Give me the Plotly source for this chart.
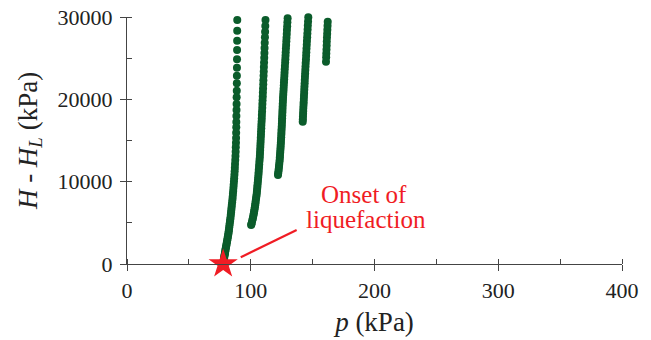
import plotly.graph_objects as go

# ---- data ----
c1_H = [29640, 28340, 27120, 25990, 24860, 23840, 22870, 21950, 21050, 20250, 19430, 18700,
        17980, 17250, 16600, 15950, 15300, 14730, 14170, 13640, 13130, 12640, 12160, 11700,
        11260, 10830, 10420, 10020, 9630, 9250, 8880, 8520, 8170, 7830, 7500, 7180, 6870, 6570,
        6280, 6000, 5720, 5450, 5190, 4930, 4680, 4440, 4200, 3970, 3740, 3520, 3300, 3090,
        2880, 2680, 2480, 2280, 2090, 1900, 1720, 1540, 1360, 1190, 1020, 850, 690, 530, 370,
        220, 70, -80, -230, -400, -600, -850]
c1_p = [89.1, 89.05, 89.0, 88.95, 88.9, 88.85, 88.8, 88.75, 88.7, 88.6, 88.55, 88.5,
        88.4, 88.35, 88.3, 88.2, 88.15, 88.05, 87.9, 87.8, 87.65, 87.5, 87.3, 87.15,
        87.0, 86.8, 86.6, 86.4, 86.2, 86.0, 85.8, 85.6, 85.4, 85.2, 84.95, 84.7, 84.5, 84.3,
        84.1, 83.9, 83.7, 83.45, 83.25, 83.0, 82.8, 82.6, 82.4, 82.2, 82.0, 81.75, 81.5, 81.25,
        81.0, 80.75, 80.5, 80.3, 80.05, 79.8, 79.6, 79.4, 79.2, 79.0, 78.8, 78.6, 78.4, 78.25, 78.05,
        77.9, 77.75, 77.7, 77.65, 77.6, 77.5, 77.45]

c2_H = [29640, 28900, 28200, 27530, 26880, 26250, 25640, 25050, 24480, 23920, 23380, 22850,
        22330, 21820, 21320, 20830, 20350, 19880, 19420, 18970, 18530, 18100, 17680, 17270,
        16870, 16480, 16090, 15700, 15320, 14940, 14570, 14200, 13840, 13480, 13130, 12780,
        12440, 12100, 11770, 11440, 11120, 10810, 10500, 10190, 9890, 9590, 9300, 9010, 8730,
        8450, 8180, 7910, 7650, 7390, 7140, 6890, 6650, 6410, 6170, 5940, 5710, 5490, 5270,
        5050, 4840, 4740]
c2_p = [111.9, 111.75, 111.6, 111.45, 111.3, 111.15, 111.05, 110.9, 110.75, 110.6, 110.5, 110.35,
        110.2, 110.1, 109.95, 109.8, 109.7, 109.55, 109.4, 109.3, 109.15, 109.0, 108.9, 108.75,
        108.6, 108.5, 108.35, 108.25, 108.1, 108.0, 107.85, 107.75, 107.6, 107.5, 107.35, 107.2,
        107.0, 106.85, 106.7, 106.5, 106.35, 106.2, 106.0, 105.8, 105.65, 105.45, 105.3, 105.1, 104.95,
        104.75, 104.5, 104.25, 104.0, 103.8, 103.55, 103.3, 103.05, 102.75, 102.5, 102.2, 101.9, 101.6, 101.25,
        100.9, 100.55, 100.3]

c3_H = [29840, 29360, 28880, 28410, 27950, 27490, 27040, 26600, 26160, 25730, 25300, 24880,
        24460, 24050, 23640, 23240, 22840, 22450, 22060, 21680, 21300, 20920, 20550, 20180,
        19820, 19460, 19100, 18750, 18400, 18050, 17710, 17370, 17030, 16700, 16370, 16040,
        15720, 15400, 15080, 14770, 14460, 14150, 13850, 13550, 13250, 12960, 12670, 12380,
        12100, 11820, 11540, 11270, 11000, 10810]
c3_p = [129.8, 129.6, 129.45, 129.25, 129.1, 128.9, 128.75, 128.6, 128.4, 128.25, 128.1, 127.95,
        127.8, 127.6, 127.45, 127.3, 127.15, 127.0, 126.85, 126.7, 126.55, 126.4, 126.25, 126.1,
        126.0, 125.85, 125.75, 125.65, 125.55, 125.45, 125.35, 125.25, 125.15, 125.05, 124.9, 124.8,
        124.7, 124.6, 124.45, 124.35, 124.2, 124.1, 123.95, 123.8, 123.65, 123.5, 123.4, 123.2,
        123.0, 122.8, 122.6, 122.4, 122.15, 122.0]

c4_H = [29960, 29460, 28970, 28490, 28010, 27540, 27080, 26620, 26170, 25720, 25280, 24840,
        24410, 23980, 23560, 23150, 22740, 22340, 21940, 21550, 21160, 20780, 20400, 20030,
        19660, 19300, 18940, 18590, 18240, 17900, 17590, 17290]
c4_p = [146.5, 146.3, 146.1, 145.95, 145.75, 145.6, 145.4, 145.25, 145.05, 144.9, 144.75, 144.6,
        144.4, 144.25, 144.1, 143.95, 143.8, 143.65, 143.55, 143.4, 143.25, 143.15, 143.0, 142.9,
        142.75, 142.65, 142.5, 142.4, 142.3, 142.2, 142.1, 142.0]

c5_H = [29430, 28940, 28460, 27980, 27500, 27020, 26540, 26060, 25580, 25100, 24570]
c5_p = [162.2, 162.05, 161.9, 161.75, 161.6, 161.45, 161.35, 161.2, 161.05, 160.95, 160.8]

onset_p = [77.7]
onset_H = [0]

x_ticks = [0, 100, 200, 300, 400]
y_ticks = [0, 10000, 20000, 30000]

GREEN = "#0b5c2b"
RED = "#f01c24"
FONT = "Liberation Serif"

fig = go.Figure()
for ps, hs in [(c1_p, c1_H), (c2_p, c2_H), (c3_p, c3_H), (c4_p, c4_H), (c5_p, c5_H)]:
    fig.add_trace(go.Scatter(x=ps, y=hs, mode="markers",
                             marker=dict(color=GREEN, size=8, line=dict(width=0)),
                             cliponaxis=False, showlegend=False))

fig.add_trace(go.Scatter(x=onset_p, y=onset_H, mode="markers",
                         marker=dict(symbol="star", color=RED, size=22, line=dict(width=0)),
                         cliponaxis=False, showlegend=False))

fig.add_shape(type="line", xref="x", yref="y", x0=91.9, y0=814, x1=137.1, y1=4130,
              line=dict(color=RED, width=2.2))
fig.add_annotation(x=191.5, y=8450, xref="x", yref="y", text="Onset of",
                   showarrow=False, font=dict(family=FONT, size=25, color=RED))
fig.add_annotation(x=193.3, y=5400, xref="x", yref="y", text="liquefaction",
                   showarrow=False, font=dict(family=FONT, size=25, color=RED))

axis_common = dict(showline=True, linecolor="#444", linewidth=1.3, showgrid=False,
                   zeroline=False, ticks="outside", ticklen=6, tickwidth=1.3, tickcolor="#444",
                   automargin=False,
                   tickfont=dict(family=FONT, size=22, color="#222"),
                   minor=dict(ticks="inside", ticklen=5, tickwidth=1.2, tickcolor="#444",
                              showgrid=False))

fig.update_xaxes(range=[0, 400], tickvals=x_ticks, ticktext=[str(v) for v in x_ticks],
                 title=dict(text="<i>p</i> (kPa)", font=dict(family=FONT, size=27, color="#222"),
                            standoff=10),
                 **axis_common)
fig.update_xaxes(minor_dtick=50, minor_tick0=0)
fig.update_yaxes(range=[0, 30000], tickvals=y_ticks, ticktext=[str(v) for v in y_ticks],
                 ticklabelstandoff=3,
                 title=dict(text="<i>H</i> - <i>H<sub>L</sub></i> (kPa)",
                            font=dict(family=FONT, size=27, color="#222"), standoff=12),
                 **axis_common)
fig.update_yaxes(minor_dtick=5000, minor_tick0=0)

fig.update_layout(width=651, height=340, margin=dict(l=127, r=29, t=17, b=76),
                  plot_bgcolor="white", paper_bgcolor="white")

fig.write_html("out.html")
